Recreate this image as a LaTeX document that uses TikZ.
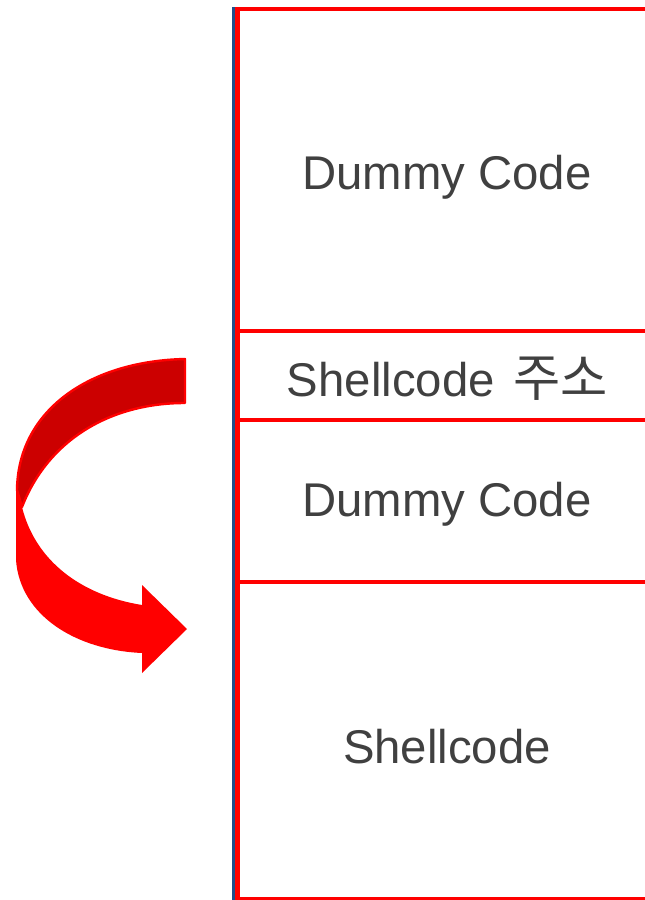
\documentclass[tikz,border=0pt]{standalone}
\usepackage{fontspec}
\setmainfont{Liberation Sans}
\newfontfamily\kr{Noto Sans CJK KR}
\definecolor{txtgray}{HTML}{404040}
\definecolor{darkred}{HTML}{CC0000}
\definecolor{barblue}{HTML}{1F4E8C}
\begin{document}
\begin{tikzpicture}[x=0.75pt,y=-0.75pt,
  seg/.style={draw=red,line width=3.3pt,fill=white},
  lbl/.style={text=txtgray,font=\fontsize{35.5}{40}\selectfont,inner sep=0pt}]
\useasboundingbox (0,0) rectangle (644,900);
\fill[white] (0,0) rectangle (644,900);
% memory boxes
\path[seg] (237.5,9) rectangle (660,331);
\path[seg] (237.5,331) rectangle (660,420);
\path[seg] (237.5,420) rectangle (660,582);
\path[seg] (237.5,582) rectangle (660,899);
\draw[red,line width=1.5pt] (237,899) -- (644,899);
\draw[barblue,line width=2.5pt] (233.5,7) -- (233.5,900);
% labels
\node[lbl] (d1) at (447,177) {Dummy Code};
\node[lbl] (sa) at (447.5,379) {Shellcode\hspace{14pt}{\kr\fontsize{38.5}{40}\selectfont 주소}};
\node[lbl] (d2) at (447,504) {Dummy Code};
\node[lbl] (sc) at (447,747) {Shellcode};
% curved arrow: lower (front) part
\fill[red] (16,485) -- (16,560) .. controls (20,615) and (75,650) .. (142,653)
  -- (142,673) -- (187,629) -- (142,585) -- (142,605)
  .. controls (80,595) and (35,560) .. (22,507) -- cycle;
% upper (back) part
\filldraw[fill=darkred,draw=red,line width=1.8pt,line join=round]
  (185,359) .. controls (90,361) and (18,410) .. (17,490) -- (22,507)
  .. controls (48,440) and (110,403) .. (185,403) -- cycle;
\end{tikzpicture}
\end{document}
